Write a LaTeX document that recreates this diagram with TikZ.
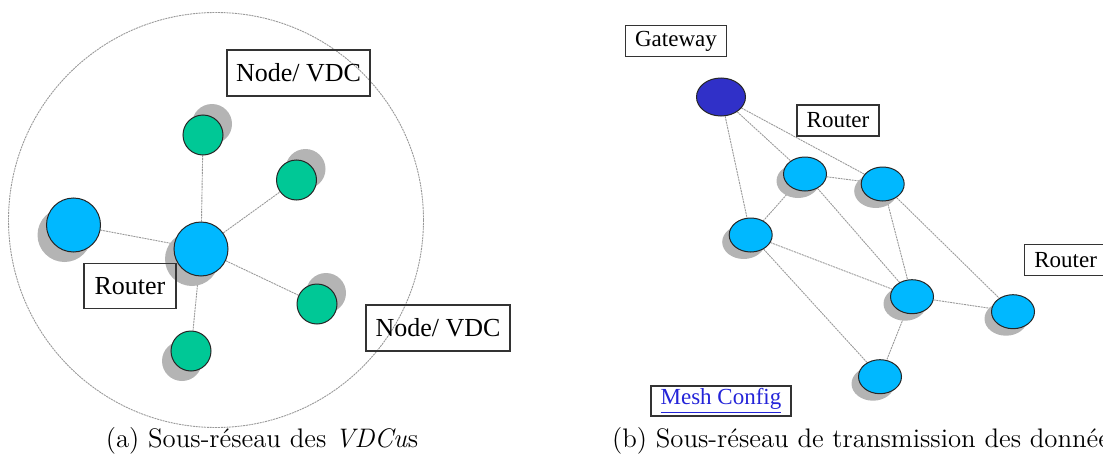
\documentclass[tikz,border=0pt]{standalone}
\usepackage{fontspec}
\newfontfamily\tnr{Liberation Serif}
\usetikzlibrary{shapes.geometric,shadows,backgrounds}
\definecolor{VdcGreen}{HTML}{00C896}
\definecolor{RtBlue}{HTML}{00B8FF}
\definecolor{GwBlue}{HTML}{3030C8}
\definecolor{LinkBlue}{HTML}{2424D8}
\definecolor{HatchGray}{HTML}{B4B4B4}

\tikzset{
  lbl/.style={draw=black!80,line width=0.6pt,inner sep=0pt,
    font=\tnr\fontsize{13}{15}\selectfont},
  smlbl/.style={lbl,font=\tnr\fontsize{11.5}{13}\selectfont,minimum height=15.5pt},
  vdc/.style={circle,draw=black!85,line width=0.5pt,fill=VdcGreen,minimum size=20pt,inner sep=0pt},
  rtr/.style={circle,draw=black!85,line width=0.5pt,fill=RtBlue,minimum size=27pt,inner sep=0pt},
  mesh/.style={ellipse,draw=black!85,line width=0.5pt,fill=RtBlue,
    minimum width=21.5pt,minimum height=17pt,inner sep=0pt},
  gway/.style={ellipse,draw=black!85,line width=0.5pt,fill=GwBlue,
    minimum width=24.5pt,minimum height=19pt,inner sep=0pt},
  shup/.style={drop shadow={shadow xshift=4.5pt,shadow yshift=5.5pt,fill=HatchGray,opacity=1}},
  shdn/.style={drop shadow={shadow xshift=-4.5pt,shadow yshift=-5pt,fill=HatchGray,opacity=1}},
  shmesh/.style={drop shadow={shadow xshift=-3.5pt,shadow yshift=-3.5pt,fill=HatchGray,opacity=1}},
  link/.style={draw=gray!80,line width=0.45pt,dash pattern=on 1pt off 0.4pt},
  caption/.style={font=\fontsize{13.4}{16}\selectfont}
}

\begin{document}
\begin{tikzpicture}[x=0.5pt,y=-0.5pt]
  \useasboundingbox (0,0) rectangle (1103,471);

  % (a) sous-reseau des VDCus
  \draw[link] (216,220) circle (207.5);

  \node[rtr,shdn] (rC) at (201,249) {};
  \node[rtr,shdn] (rL) at (73.5,225) {};
  \node[vdc,shup] (vT) at (203,135) {};
  \node[vdc,shup] (vR1) at (296.5,180) {};
  \node[vdc,shup] (vR2) at (317,304) {};
  \node[vdc,shdn] (vB) at (191,351) {};

  \begin{scope}[on background layer]
    \foreach \n in {rL,vT,vR1,vR2,vB}
      \draw[link] (rC) -- (\n);
  \end{scope}

  \node[lbl,minimum width=71.5pt,minimum height=23pt] (nodeTop) at (298.5,73) {Node/ VDC};
  \node[lbl,minimum width=46pt,minimum height=22.5pt] (rtrLbl) at (130,286) {Router};
  \node[lbl,minimum width=72pt,minimum height=23pt] (nodeBot) at (438,328) {Node/ VDC};

  % (b) sous-reseau de transmission
  \node[gway] (gw) at (721,97) {};
  \node[mesh,shmesh] (m1) at (805,174) {};
  \node[mesh,shmesh] (m2) at (882.7,184) {};
  \node[mesh,shmesh] (m3) at (750.7,235) {};
  \node[mesh,shmesh] (m4) at (912,296.7) {};
  \node[mesh,shmesh] (m5) at (1013,311.7) {};
  \node[mesh,shmesh] (m6) at (880,376.7) {};

  \begin{scope}[on background layer]
    \foreach \a/\b in {gw/m3,gw/m1,gw/m2,m1/m2,m1/m3,m1/m4,m2/m4,m2/m5,m3/m4,m3/m6,m4/m5,m4/m6}
      \draw[link] (\a) -- (\b);
  \end{scope}

  \node[smlbl,minimum width=50.5pt] (gwLbl) at (676,41) {Gateway};
  \node[smlbl,minimum width=41pt] (rtrTop) at (838,120.5) {Router};
  \node[smlbl,minimum width=41pt,anchor=west] (rtrRight) at (1024,260) {Router};
  \node[smlbl,minimum width=70pt,minimum height=15pt,text=LinkBlue] (meshLbl) at (721,401)
    {\underline{Mesh Config}};

  % legendes
  \node[caption] (capA) at (262,441) {(a) Sous-réseau des \textit{VDCu}s};
  \node[caption,anchor=west] (capB) at (605,441) {(b) Sous-réseau de transmission des données};
\end{tikzpicture}
\end{document}
